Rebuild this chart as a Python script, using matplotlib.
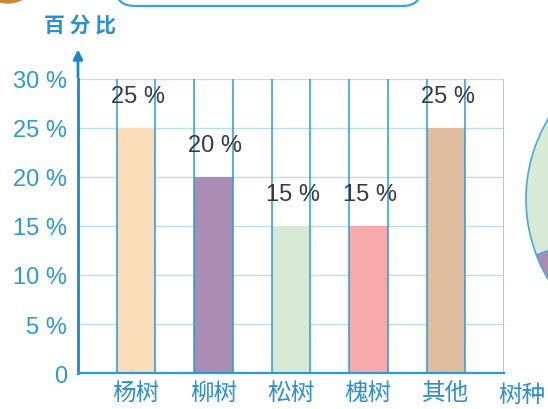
import matplotlib.pyplot as plt
from matplotlib.patches import Circle, FancyBboxPatch, Wedge

plt.rcParams['font.family'] = ['Noto Sans CJK SC', 'DejaVu Sans']

trees = ["杨树", "柳树", "松树", "槐树", "其他"]
percents = [25, 20, 15, 15, 25]
colors = ["#FCDDBA", "#A98DB2", "#D6EAD6", "#F6AAAC", "#DFBD9E"]
yticks = [0, 5, 10, 15, 20, 25, 30]
ytick_labels = ["0", "5 %", "10 %", "15 %", "20 %", "25 %", "30 %"]

blue = "#2B9AD8"
light = "#BCDDF0"
num_font = ["Liberation Sans", "DejaVu Sans"]

fig = plt.figure(figsize=(5.48, 4.10), dpi=100)
ax = fig.add_axes([0.1423, 0.0878, 0.7774, 0.7171])

xpos = [1.5 + 2 * i for i in range(len(trees))]
ax.bar(xpos, percents, width=1, color=colors, edgecolor="none", zorder=1)

# grid
for y in yticks[1:]:
    ax.axhline(y, color=light, lw=1, zorder=0)
for x in range(1, 11):
    ax.axvline(x, color=blue, lw=1.3, alpha=0.85, zorder=2)
ax.axvline(11, color="#8CC6EA", lw=1.2, zorder=2)

for x, p in zip(xpos, percents):
    ax.text(x + 0.05, p + 3.3, "%d %%" % p, ha="center", va="center",
            fontsize=17, color="#3a3a3a", family=num_font)

ax.set_xlim(0, 11)
ax.set_ylim(0, 30)
ax.set_yticks(yticks)
ax.set_yticklabels(ytick_labels, color=blue, fontsize=17, family=num_font)
ax.set_xticks(xpos)
ax.set_xticklabels(trees, color="#2B8FD0", fontsize=17)
ax.tick_params(length=0, pad=8)
ax.tick_params(axis="x", pad=6)
for s in ["top", "right"]:
    ax.spines[s].set_visible(False)
ax.spines["left"].set_color("#1B86D0")
ax.spines["left"].set_linewidth(2)
ax.spines["bottom"].set_color(blue)
ax.spines["bottom"].set_linewidth(1.6)

# y arrow
ax.annotate("", xy=(0, 33.3), xytext=(0, 29.9), annotation_clip=False,
            arrowprops=dict(arrowstyle="-|>", color="#1B86D0", lw=2,
                            mutation_scale=14))

fig.text(0.146, 0.94, "百 分 比", color="#2B8FD0", fontsize=15,
         ha="center", va="center", fontweight="bold")
fig.text(0.952, 0.035, "树种", color="#2B8FD0", fontsize=17,
         ha="center", va="center")

# decorations (pixel positions -> inches)
tr = fig.dpi_scale_trans
fig.patches.append(Circle((0.08, 4.36), 0.3, transform=tr,
                          color="#C98A3A", zorder=0))
fig.patches.append(FancyBboxPatch((1.15, 4.03), 3.07, 0.4,
                                  boxstyle="round,pad=0,rounding_size=0.2",
                                  transform=tr, fill=False,
                                  edgecolor="#3AA3E0", lw=1.6, zorder=0))
pie_c = (6.82, 2.10)
fig.patches.append(Circle(pie_c, 1.56, transform=tr,
                          facecolor="#D6EAD6", edgecolor="#4AA8E0", lw=1.2,
                          zorder=0))
fig.patches.append(Wedge(pie_c, 1.56, 201, 250, transform=tr,
                         facecolor="#A98DB2", edgecolor="#4AA8E0", lw=1.0,
                         zorder=0))

fig.savefig("out.png", dpi=100)
